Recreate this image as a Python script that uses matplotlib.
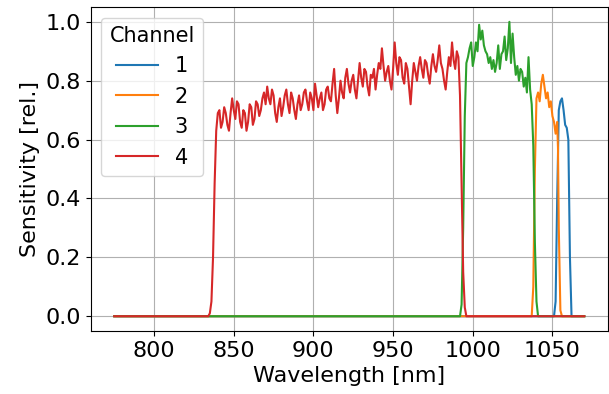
import matplotlib
matplotlib.use("Agg")
import matplotlib.pyplot as plt
import numpy as np

# spectral sensitivity per channel
wl_start, wl_end = 775, 1070

ch1_wl = [1051, 1052, 1053, 1054, 1055, 1056, 1057, 1058, 1059, 1060, 1061, 1062]
ch1_val = [0.0, 0.05, 0.40, 0.70, 0.73, 0.74, 0.70, 0.65, 0.64, 0.60, 0.20, 0.0]

ch2_wl = [1037, 1038, 1039, 1040, 1041, 1042, 1043, 1044, 1045, 1046, 1047,
          1048, 1049, 1050, 1051, 1052, 1053, 1053.5, 1054, 1055, 1056]
ch2_val = [0.0, 0.10, 0.50, 0.74, 0.76, 0.73, 0.79, 0.82, 0.78, 0.74, 0.76,
           0.71, 0.73, 0.68, 0.66, 0.62, 0.66, 0.57, 0.30, 0.02, 0.0]

ch3_wl = [992, 993, 994, 995, 996, 997, 998, 999, 1000, 1001, 1002, 1003,
          1004, 1005, 1006, 1007, 1008, 1009, 1010, 1011, 1012, 1013, 1014,
          1015, 1016, 1017, 1018, 1019, 1020, 1021, 1022, 1023, 1024, 1025,
          1026, 1027, 1028, 1029, 1030, 1031, 1032, 1033, 1034, 1035, 1036,
          1037, 1038, 1039, 1040, 1041]
ch3_val = [0.0, 0.04, 0.30, 0.68, 0.86, 0.88, 0.91, 0.93, 0.85, 0.88, 0.93,
           0.90, 0.99, 0.94, 0.97, 0.92, 0.90, 0.89, 0.86, 0.88, 0.84, 0.87,
           0.83, 0.86, 0.92, 0.84, 0.89, 0.90, 0.95, 0.87, 0.91, 1.00, 0.86,
           0.96, 0.88, 0.82, 0.85, 0.80, 0.84, 0.83, 0.78, 0.81, 0.76, 0.88,
           0.77, 0.72, 0.58, 0.25, 0.05, 0.0]

ch4_edge_wl = [834, 835, 836, 837, 838, 839, 840]
ch4_edge_val = [0.0, 0.01, 0.05, 0.20, 0.45, 0.63, 0.69]
ch4_body_wl = list(range(841, 992))
ch4_body_val = [0.70, 0.64, 0.66, 0.71, 0.69, 0.65, 0.63, 0.69, 0.74, 0.70,
                0.67, 0.73, 0.72, 0.66, 0.64, 0.70, 0.69, 0.63, 0.66, 0.72,
                0.71, 0.65, 0.67, 0.73, 0.72, 0.68, 0.70, 0.74, 0.76, 0.72,
                0.78, 0.74, 0.72, 0.77, 0.75, 0.69, 0.66, 0.71, 0.74, 0.68,
                0.71, 0.75, 0.77, 0.72, 0.69, 0.76, 0.74, 0.70, 0.67, 0.72,
                0.75, 0.70, 0.72, 0.76, 0.77, 0.73, 0.70, 0.76, 0.74, 0.70,
                0.79, 0.75, 0.71, 0.74, 0.76, 0.70, 0.72, 0.77, 0.78, 0.74,
                0.73, 0.79, 0.84, 0.75, 0.69, 0.74, 0.80, 0.76, 0.74, 0.81,
                0.84, 0.79, 0.76, 0.80, 0.82, 0.77, 0.74, 0.80, 0.86, 0.81,
                0.78, 0.84, 0.83, 0.78, 0.75, 0.82, 0.81, 0.84, 0.77, 0.82,
                0.86, 0.84, 0.91, 0.85, 0.80, 0.83, 0.85, 0.80, 0.77, 0.84,
                0.93, 0.86, 0.82, 0.88, 0.87, 0.81, 0.79, 0.86, 0.84, 0.78,
                0.72, 0.80, 0.86, 0.83, 0.80, 0.85, 0.88, 0.84, 0.81, 0.87,
                0.86, 0.82, 0.79, 0.85, 0.89, 0.85, 0.83, 0.87, 0.92, 0.86,
                0.84, 0.80, 0.77, 0.83, 0.88, 0.85, 0.93, 0.87, 0.84, 0.90,
                0.88]
ch4_tail_wl = [992, 993, 994, 995, 996]
ch4_tail_val = [0.75, 0.45, 0.15, 0.03, 0.0]

channels = ["1", "2", "3", "4"]
ch4_wl = ch4_edge_wl + ch4_body_wl + ch4_tail_wl
ch4_val = ch4_edge_val + ch4_body_val + ch4_tail_val
series = [(ch1_wl, ch1_val), (ch2_wl, ch2_val), (ch3_wl, ch3_val), (ch4_wl, ch4_val)]

plt.rcParams['font.size'] = 16

fig, ax = plt.subplots(figsize=(6.09, 3.94), dpi=100)
for name, (wl, val) in zip(channels, series):
    x = np.array([wl_start] + list(wl) + [wl_end])
    y = np.array([0.0] + list(val) + [0.0])
    ax.plot(x, y, label=name)

ax.set_xlabel('Wavelength [nm]')
ax.set_ylabel('Sensitivity [rel.]')
ax.set_xticks([800, 850, 900, 950, 1000, 1050])
ax.set_yticks([0.0, 0.2, 0.4, 0.6, 0.8, 1.0])
ax.grid(True)
ax.legend(title='Channel', loc='upper left', fontsize=15, title_fontsize=15)
fig.subplots_adjust(left=0.149, right=0.998, bottom=0.160, top=0.982)
fig.savefig('out.png')
